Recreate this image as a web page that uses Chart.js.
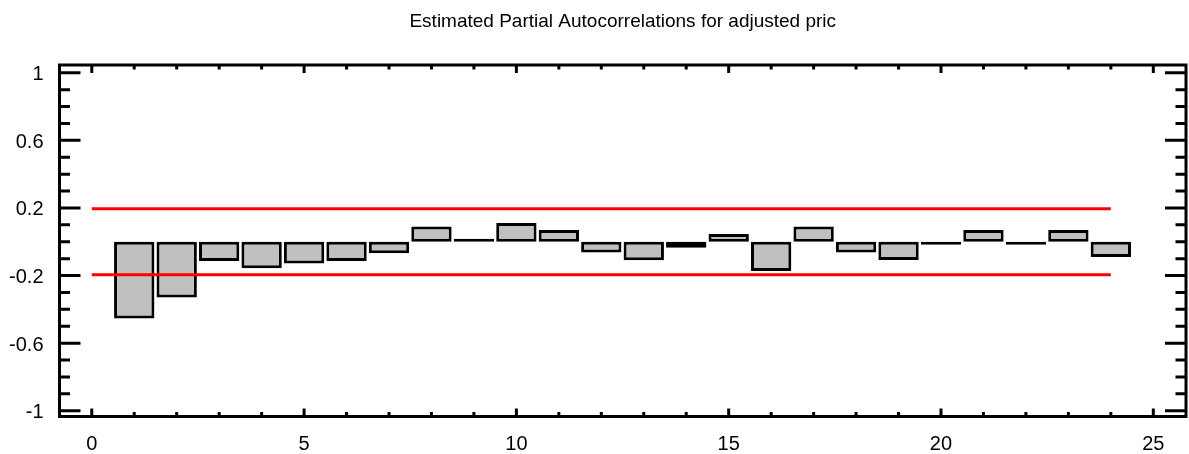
<!DOCTYPE html>
<html>
<head>
<meta charset="utf-8">
<title>Estimated Partial Autocorrelations</title>
<script src="https://cdn.jsdelivr.net/npm/chart.js@4.4.0/dist/chart.umd.min.js"></script>
<style>
  html, body { margin: 0; padding: 0; background: #fff; }
</style>
</head>
<body>
<canvas id="pacfChart" width="1189" height="454"></canvas>
<script>
// lags and partial autocorrelations
const lags = [1, 2, 3, 4, 5, 6, 7, 8, 9, 10, 11, 12, 13, 14, 15, 16, 17, 18, 19, 20, 21, 22, 23, 24];
const pacf = [-0.454, -0.330, -0.114, -0.157, -0.129, -0.114, -0.068, 0.090, 0.012, 0.111, 0.070, -0.064,
              -0.109, -0.036, 0.046, -0.173, 0.090, -0.064, -0.108, -0.010, 0.070, -0.012, 0.070, -0.090];

// 95% limits (red lines)
const limitUpper = 0.195;
const limitLower = -0.195;
const limitLags = [0, 24];

const yTickLabels = [-1, -0.6, -0.2, 0.2, 0.6, 1];
const xTickLabels = [0, 5, 10, 15, 20, 25];

const titleText = 'Estimated Partial Autocorrelations for adjusted pric';
const fontFamily = '"Liberation Sans", Arial, sans-serif';

/**
 * cadre noir + graduations vers l'interieur (comme le graphique d'origine)
 */
const frameTicks = {
    id: 'frameTicks',
    afterDraw(chart) {
        const { ctx, chartArea: a, scales } = chart;
        const x = scales.x;
        const y = scales.y;
        ctx.save();
        ctx.strokeStyle = '#000';
        ctx.lineWidth = 3;
        ctx.lineCap = 'butt';
        ctx.strokeRect(a.left, a.top, a.right - a.left, a.bottom - a.top);

        ctx.beginPath();
        // y : majeures aux labels, mineures tous les 0.1
        for (let i = -10; i <= 10; i++) {
            const v = i / 10;
            const py = y.getPixelForValue(v);
            const major = yTickLabels.some(t => Math.abs(t - v) < 1e-9);
            const len = major ? 21 : 10.5;
            ctx.moveTo(a.left, py);
            ctx.lineTo(a.left + len, py);
            ctx.moveTo(a.right, py);
            ctx.lineTo(a.right - len, py);
        }
        // x : une graduation par lag
        for (let i = 0; i <= 25; i++) {
            const px = x.getPixelForValue(i);
            const len = xTickLabels.includes(i) ? 8 : 4.5;
            ctx.moveTo(px, a.bottom);
            ctx.lineTo(px, a.bottom - len);
            ctx.moveTo(px, a.top);
            ctx.lineTo(px, a.top + len);
        }
        ctx.stroke();
        ctx.restore();
    }
};

const ctx = document.getElementById('pacfChart');

new Chart(ctx, {
    data: {
        datasets: [
            {
                type: 'bar',
                label: 'pacf',
                data: lags.map((lag, i) => ({ x: lag, y: pacf[i] })),
                backgroundColor: '#c0c0c0',
                borderColor: '#000',
                borderWidth: 3,
                borderSkipped: false,
                barPercentage: 0.95,
                categoryPercentage: 1,
                minBarLength: 3,
                order: 1
            },
            {
                type: 'line',
                label: 'upper',
                data: limitLags.map(l => ({ x: l, y: limitUpper })),
                borderColor: '#f00',
                borderWidth: 3,
                pointRadius: 0,
                order: 0
            },
            {
                type: 'line',
                label: 'lower',
                data: limitLags.map(l => ({ x: l, y: limitLower })),
                borderColor: '#f00',
                borderWidth: 3,
                pointRadius: 0,
                order: 0
            }
        ]
    },
    options: {
        responsive: false,
        animation: false,
        layout: {
            padding: { left: 0, right: 3, top: 0, bottom: 0 }
        },
        scales: {
            x: {
                type: 'linear',
                offset: false,
                min: -0.76,
                max: 25.77,
                grid: { display: false, drawTicks: false, offset: false },
                border: { display: false },
                afterBuildTicks: s => { s.ticks = xTickLabels.map(v => ({ value: v })); },
                afterFit: s => { s.height = 37.5; },
                ticks: {
                    color: '#000',
                    font: { family: fontFamily, size: 20 },
                    padding: 15.5,
                    autoSkip: false,
                    maxRotation: 0,
                    callback: v => String(v)
                }
            },
            y: {
                type: 'linear',
                min: -1.034,
                max: 1.046,
                grid: { display: false, drawTicks: false },
                border: { display: false },
                afterBuildTicks: s => { s.ticks = yTickLabels.map(v => ({ value: v })); },
                afterFit: s => { s.width = 59.5; },
                ticks: {
                    color: '#000',
                    font: { family: fontFamily, size: 20 },
                    padding: 16,
                    labelOffset: 2,
                    callback: v => String(v)
                }
            }
        },
        plugins: {
            legend: { display: false },
            tooltip: { enabled: false },
            title: {
                display: true,
                text: titleText,
                color: '#000',
                fullSize: false,
                font: { family: fontFamily, size: 19, weight: 'normal' },
                padding: { top: 10.6, bottom: 31.6 }
            }
        }
    },
    plugins: [frameTicks]
});
</script>
</body>
</html>
